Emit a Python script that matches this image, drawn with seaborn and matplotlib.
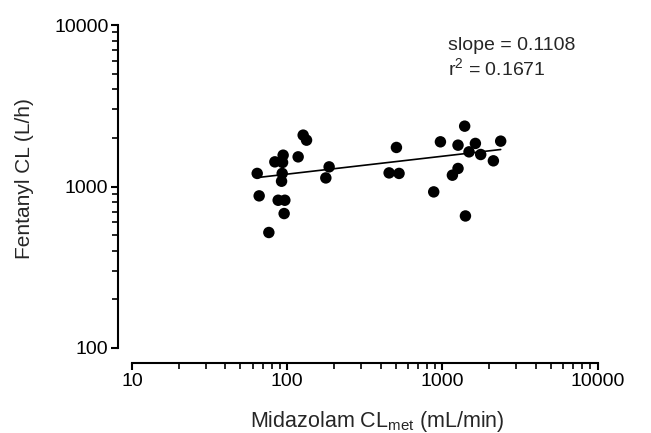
import numpy as np
import pandas as pd
import matplotlib
matplotlib.use("Agg")
import matplotlib.pyplot as plt
import seaborn as sns
from matplotlib.ticker import LogLocator, NullFormatter, FixedLocator, FixedFormatter

# values
midazolam_cl = [64.1, 66.0, 76.2, 83.3, 94.2, 93.4, 92.9, 92.0, 87.5, 96.6,
                95.6, 117.7, 126.8, 133.3, 186.4, 177.5, 506, 454, 526,
                1393, 972, 1262, 1633, 1486, 1767, 2377, 2133, 1262, 1161,
                880, 1409]
fentanyl_cl = [1205, 875, 519, 1421, 1563, 1409, 1205, 1078, 822, 822,
               680, 1526, 2080, 1936, 1323, 1130, 1745, 1214, 1205,
               2364, 1891, 1803, 1848, 1639, 1578, 1909, 1442, 1293, 1175,
               926, 657]

fit_slope = 0.1108
fit_intercept = 2.855  # log10 units
r_squared = 0.1671

x_ticks = [10, 100, 1000, 10000]
y_ticks = [100, 1000, 10000]

sns.set_style("ticks")
plt.rcParams["font.family"] = ["Liberation Sans", "DejaVu Sans"]
plt.rcParams["mathtext.fontset"] = "custom"
plt.rcParams["mathtext.rm"] = "Liberation Sans"
plt.rcParams["mathtext.it"] = "Liberation Sans:italic"
plt.rcParams["mathtext.default"] = "regular"

df = pd.DataFrame({"midazolam": midazolam_cl, "fentanyl": fentanyl_cl})

fig = plt.figure(figsize=(6.51, 4.33), dpi=100)
ax = fig.add_axes([132 / 651, 1 - 348 / 433, (597.5 - 132) / 651, (348 - 25) / 433])
ax.set_xscale("log")
ax.set_yscale("log")

sns.scatterplot(data=df, x="midazolam", y="fentanyl", s=68, color="black",
                edgecolor="none", ax=ax, zorder=3, legend=False)

x_fit = np.array([df["midazolam"].min(), df["midazolam"].max()])
y_fit = 10 ** (fit_intercept + fit_slope * np.log10(x_fit))
sns.lineplot(x=x_fit, y=y_fit, color="black", linewidth=1.2, ax=ax, zorder=2)

ax.set_xlim(10, 10000)
ax.set_ylim(100, 10000)

ax.xaxis.set_major_locator(FixedLocator(x_ticks))
ax.xaxis.set_major_formatter(FixedFormatter([str(t) for t in x_ticks]))
ax.yaxis.set_major_locator(FixedLocator(y_ticks))
ax.yaxis.set_major_formatter(FixedFormatter([str(t) for t in y_ticks]))
ax.xaxis.set_minor_locator(LogLocator(base=10, subs=np.arange(2, 10), numticks=20))
ax.yaxis.set_minor_locator(LogLocator(base=10, subs=np.arange(2, 10), numticks=20))
ax.xaxis.set_minor_formatter(NullFormatter())
ax.yaxis.set_minor_formatter(NullFormatter())

sns.despine(ax=ax)
ax.spines["left"].set_position(("outward", 10))
ax.spines["bottom"].set_position(("outward", 11))
for s in ["left", "bottom"]:
    ax.spines[s].set_linewidth(1.5)
    ax.spines[s].set_color("black")

ax.tick_params(which="major", length=5, width=1.5, labelsize=14, pad=2, colors="black")
ax.tick_params(which="minor", length=4, width=1.2, colors="black")

ax.set_xlabel("Midazolam CL$_{met}$ (mL/min)", fontsize=15.5)
ax.set_ylabel("Fentanyl CL (L/h)", fontsize=15)
ax.xaxis.set_label_coords(0.527, -0.19)
ax.yaxis.set_label_coords(-0.21, 0.525)

fig.text(448 / 651, 1 - 49.5 / 433, f"slope = {fit_slope:.4f}", fontsize=14, va="baseline")
fig.text(448 / 651, 1 - 75.5 / 433, f"r$^{{2}}$ = {r_squared:.4f}", fontsize=14, va="baseline")

fig.savefig("out.png", dpi=100)
